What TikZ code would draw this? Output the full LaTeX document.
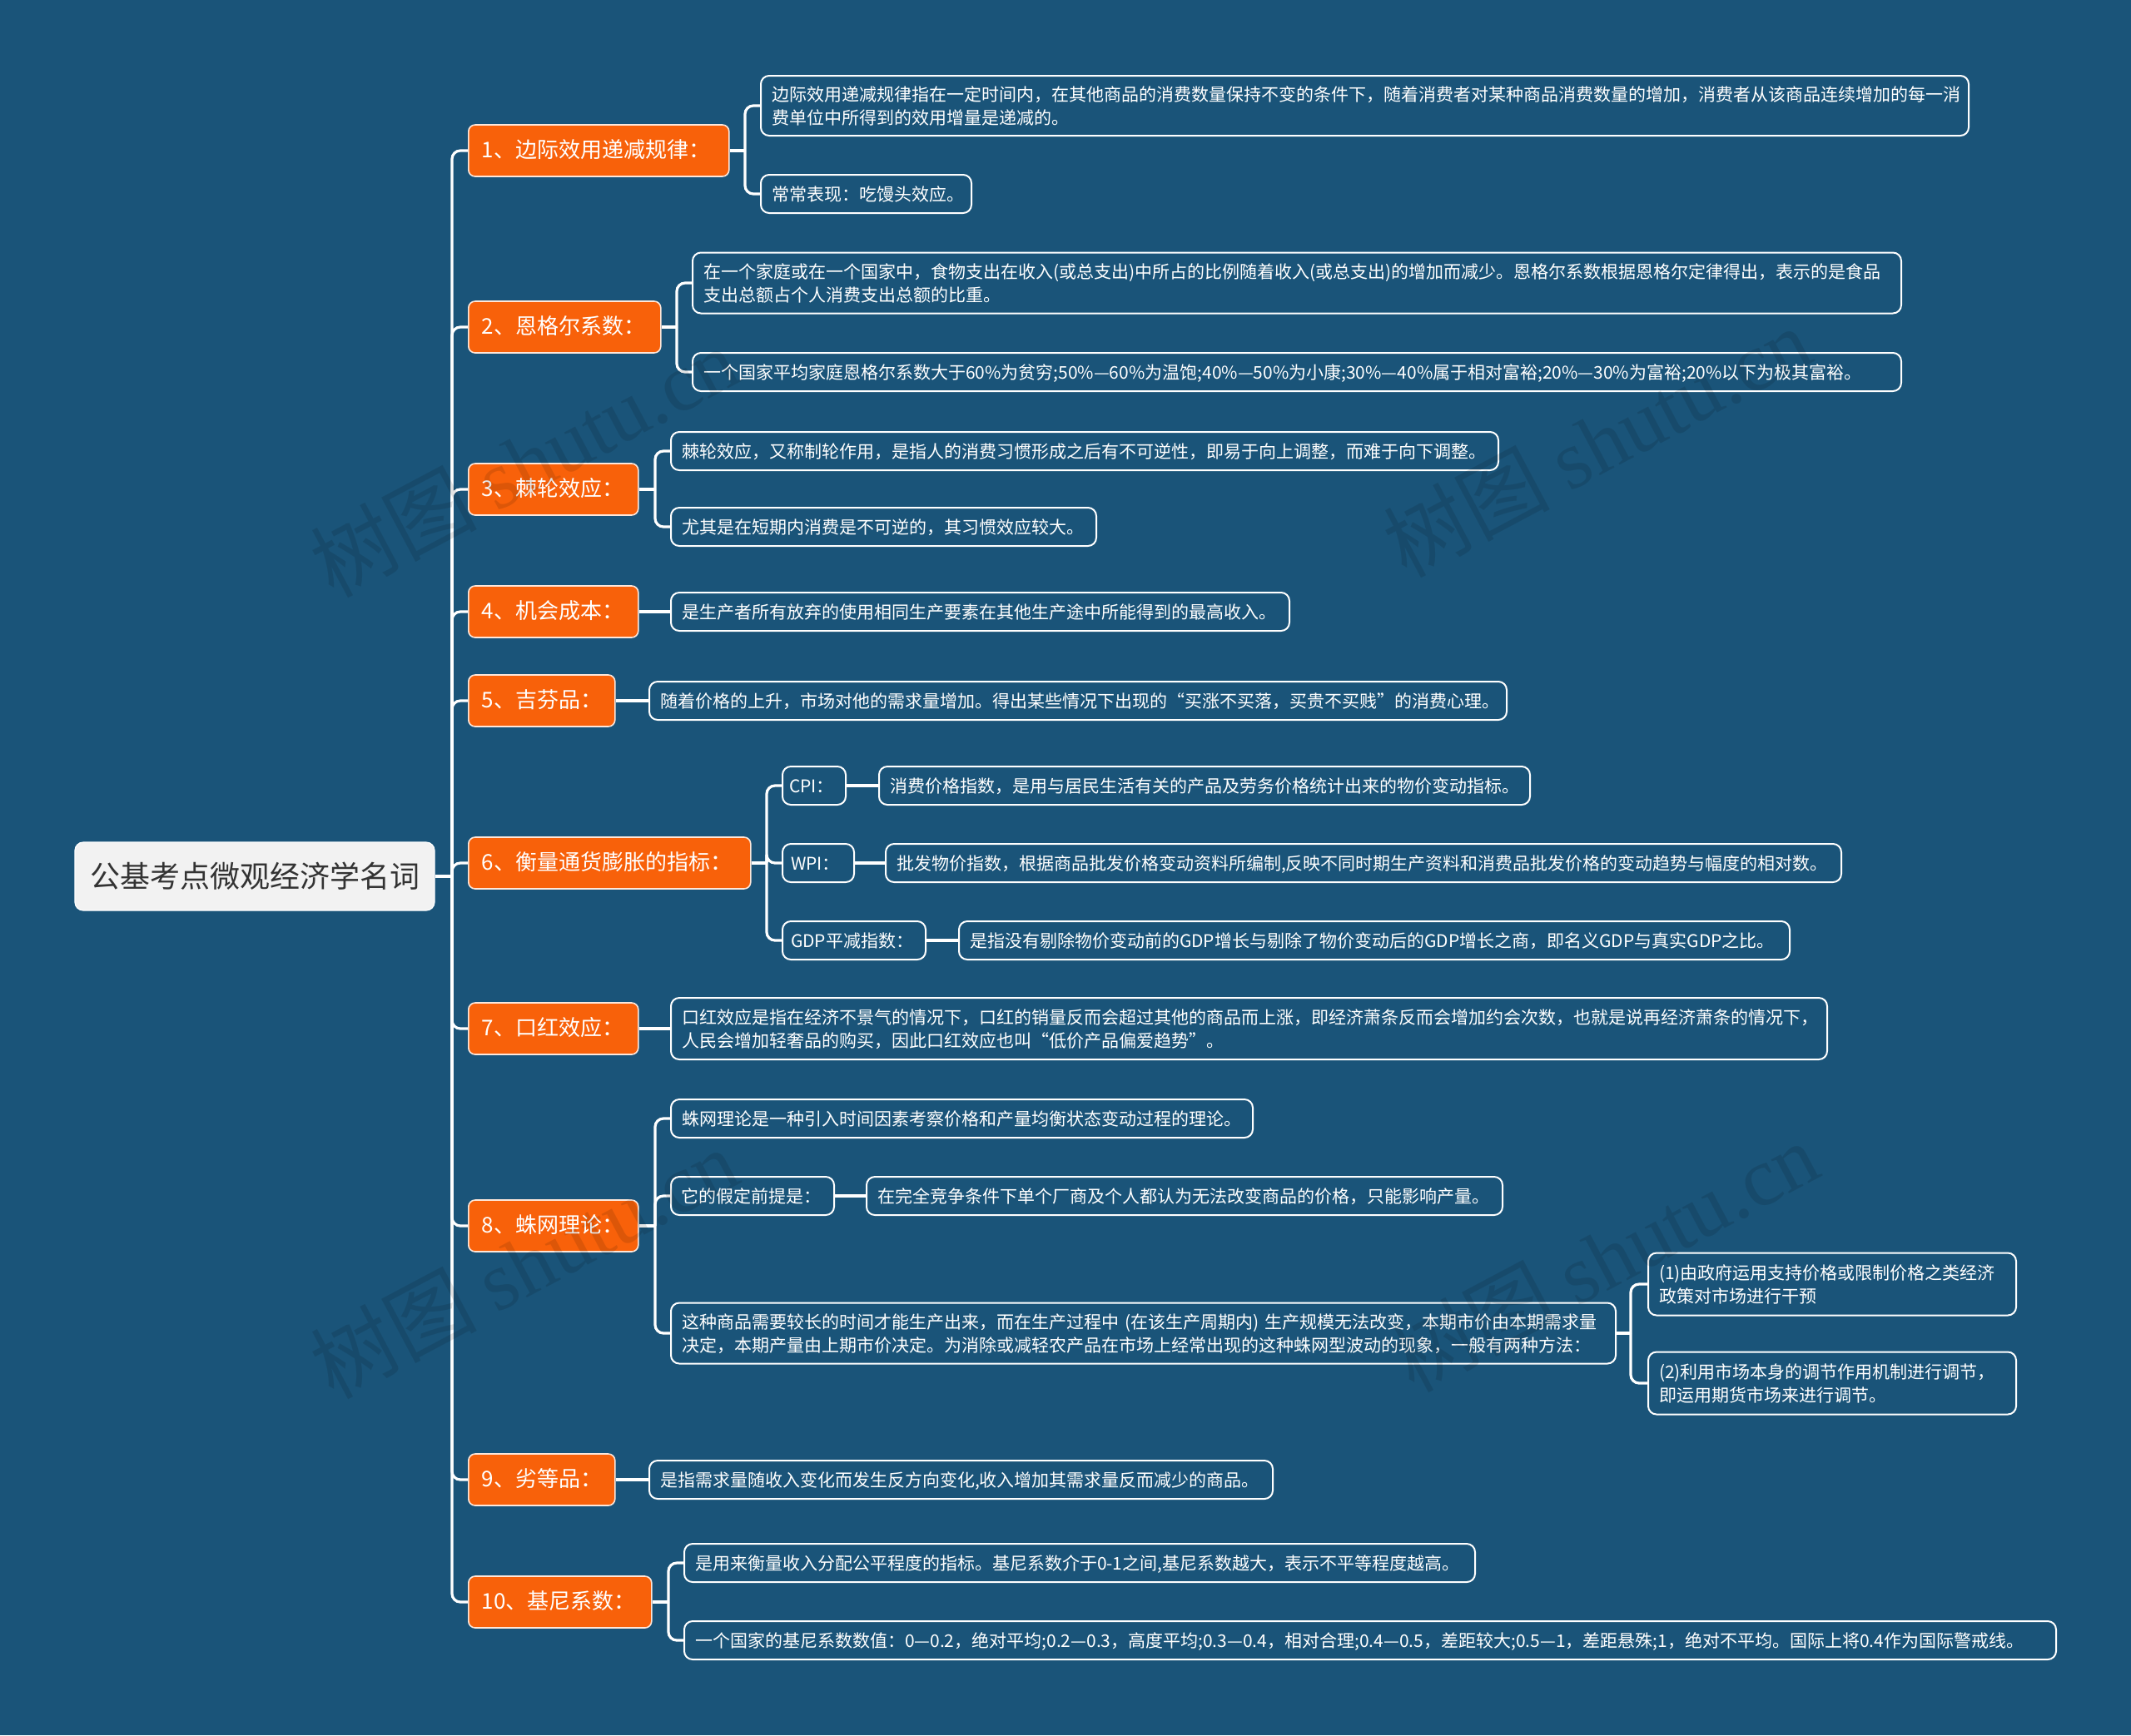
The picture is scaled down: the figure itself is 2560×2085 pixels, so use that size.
\documentclass[tikz,border=0pt]{standalone}
\usepackage{fontspec}
\setmainfont{Noto Sans CJK SC}
\newfontfamily\wmlatin{Liberation Serif}
\definecolor{bgblue}{HTML}{1A5479}
\definecolor{orangeA}{HTML}{F8610A}
\definecolor{rootfill}{HTML}{F2F2F2}
\definecolor{roottext}{HTML}{333333}
\newcommand\mmnode[8]{%
  \pgfmathsetmacro\mmW{#5/2-2*#7}%
  \pgfmathsetmacro\mmH{#6/2}%
  \node[#1, inner xsep=#7pt, text width=\mmW pt, minimum height=\mmH pt, anchor=west] (#2) at (#3,#4) {\raisebox{-1.2pt}[\height][\depth]{\begin{tabular}{@{}l@{}}#8\end{tabular}}};%
}
\tikzset{
  rootbox/.style={fill=rootfill, draw=white, line width=0.6pt, rounded corners=5pt, text=roottext,
    font=\fontsize{18}{22}\selectfont, minimum width=216pt, minimum height=41pt, inner sep=0pt},
  lvone/.style={fill=orangeA, draw=white!85!orangeA, line width=0.8pt, rounded corners=4pt, text=white,
    font=\fontsize{13}{16}\selectfont, align=left, inner ysep=0pt},
  lvtwo/.style={fill=bgblue, draw=white, line width=1pt, rounded corners=5pt, text=white,
    font=\fontsize{10.5}{14}\selectfont, align=left, inner ysep=0pt},
  conn/.style={draw=white, line width=1.6pt, rounded corners=5pt},
  wmark/.style={text=black, opacity=0.11, rotate=28, font=\fontsize{50}{50}\selectfont}
}
\begin{document}
\begin{tikzpicture}[x=0.5pt,y=-0.5pt]
\useasboundingbox (0,0) rectangle (2560,2085);
\fill[bgblue] (0,0) rectangle (2560,2085);

% root
\node[rootbox] (root) at (306,1053) {公基考点微观经济学名词};

% level one
\mmnode{lvone}{n1}{562}{181}{313}{62}{8}{1、边际效用递减规律：}
\mmnode{lvone}{n2}{562}{393}{231}{62}{8}{2、恩格尔系数：}
\mmnode{lvone}{n3}{562}{588}{204}{62}{8}{3、棘轮效应：}
\mmnode{lvone}{n4}{562}{735}{204}{62}{8}{4、机会成本：}
\mmnode{lvone}{n5}{562}{842}{176}{62}{8}{5、吉芬品：}
\mmnode{lvone}{n6}{562}{1037}{339}{62}{8}{6、衡量通货膨胀的指标：}
\mmnode{lvone}{n7}{562}{1236}{204}{62}{8}{7、口红效应：}
\mmnode{lvone}{n8}{562}{1473}{204}{62}{8}{8、蛛网理论：}
\mmnode{lvone}{n9}{562}{1778}{176}{62}{8}{9、劣等品：}
\mmnode{lvone}{n10}{562}{1925}{220}{62}{8}{10、基尼系数：}

% level two
\mmnode{lvtwo}{a1}{913}{127}{1451}{72}{6.5}{边际效用递减规律指在一定时间内，在其他商品的消费数量保持不变的条件下，随着消费者对某种商品消费数量的增加，消费者从该商品连续增加的每一消\\费单位中所得到的效用增量是递减的。}
\mmnode{lvtwo}{b1}{913}{233}{253}{46}{6.5}{常常表现：吃馒头效应。}
\mmnode{lvtwo}{a2}{831}{340}{1452}{73}{6.5}{在一个家庭或在一个国家中，食物支出在收入(或总支出)中所占的比例随着收入(或总支出)的增加而减少。恩格尔系数根据恩格尔定律得出，表示的是食品\\支出总额占个人消费支出总额的比重。}
\mmnode{lvtwo}{b2}{831}{447}{1452}{46}{6.5}{一个国家平均家庭恩格尔系数大于60\%为贫穷;50\%—60\%为温饱;40\%—50\%为小康;30\%—40\%属于相对富裕;20\%—30\%为富裕;20\%以下为极其富裕。}
\mmnode{lvtwo}{a3}{805}{542}{994}{46}{6.5}{棘轮效应，又称制轮作用，是指人的消费习惯形成之后有不可逆性，即易于向上调整，而难于向下调整。}
\mmnode{lvtwo}{b3}{805}{633}{511}{46}{6.5}{尤其是在短期内消费是不可逆的，其习惯效应较大。}
\mmnode{lvtwo}{a4}{805}{735}{743}{46}{6.5}{是生产者所有放弃的使用相同生产要素在其他生产途中所能得到的最高收入。}
\mmnode{lvtwo}{a5}{779}{842}{1030}{46}{6.5}{随着价格的上升，市场对他的需求量增加。得出某些情况下出现的“买涨不买落，买贵不买贱”的消费心理。}
\mmnode{lvtwo}{c6}{939}{944}{76}{46}{4}{CPI：}
\mmnode{lvtwo}{w6}{939}{1037}{86}{46}{5}{WPI：}
\mmnode{lvtwo}{g6}{939}{1130}{172}{46}{5}{GDP平减指数：}
\mmnode{lvtwo}{cd6}{1055}{944}{782}{46}{6.5}{消费价格指数，是用与居民生活有关的产品及劳务价格统计出来的物价变动指标。}
\mmnode{lvtwo}{wd6}{1063}{1037}{1148}{46}{6.5}{批发物价指数，根据商品批发价格变动资料所编制,反映不同时期生产资料和消费品批发价格的变动趋势与幅度的相对数。}
\mmnode{lvtwo}{gd6}{1151}{1130}{998}{46}{6.5}{是指没有剔除物价变动前的GDP增长与剔除了物价变动后的GDP增长之商，即名义GDP与真实GDP之比。}
\mmnode{lvtwo}{a7}{805}{1236}{1389}{74}{6.5}{口红效应是指在经济不景气的情况下，口红的销量反而会超过其他的商品而上涨，即经济萧条反而会增加约会次数，也就是说再经济萧条的情况下，\\人民会增加轻奢品的购买，因此口红效应也叫“低价产品偏爱趋势”。}
\mmnode{lvtwo}{a8}{805}{1344}{699}{46}{6.5}{蛛网理论是一种引入时间因素考察价格和产量均衡状态变动过程的理论。}
\mmnode{lvtwo}{b8}{805}{1437}{196}{46}{6}{它的假定前提是：}
\mmnode{lvtwo}{bd8}{1040}{1437}{764}{46}{6.5}{在完全竞争条件下单个厂商及个人都认为无法改变商品的价格，只能影响产量。}
\mmnode{lvtwo}{c8}{805}{1602}{1135}{73}{6.5}{这种商品需要较长的时间才能生产出来，而在生产过程中 (在该生产周期内) 生产规模无法改变，本期市价由本期需求量\\决定，本期产量由上期市价决定。为消除或减轻农产品在市场上经常出现的这种蛛网型波动的现象，一般有两种方法：}
\mmnode{lvtwo}{c8a}{1979}{1543}{442}{75}{6.5}{(1)由政府运用支持价格或限制价格之类经济\\政策对市场进行干预}
\mmnode{lvtwo}{c8b}{1979}{1662}{442}{75}{6.5}{(2)利用市场本身的调节作用机制进行调节，\\即运用期货市场来进行调节。}
\mmnode{lvtwo}{a9}{779}{1778}{749}{46}{6.5}{是指需求量随收入变化而发生反方向变化,收入增加其需求量反而减少的商品。}
\mmnode{lvtwo}{a10}{821}{1878}{950}{46}{6.5}{是用来衡量收入分配公平程度的指标。基尼系数介于0-1之间,基尼系数越大，表示不平等程度越高。}
\mmnode{lvtwo}{b10}{821}{1971}{1648}{46}{6.5}{一个国家的基尼系数数值：0—0.2，绝对平均;0.2—0.3，高度平均;0.3—0.4，相对合理;0.4—0.5，差距较大;0.5—1，差距悬殊;1，绝对不平均。国际上将0.4作为国际警戒线。}

% junctions
\coordinate (j0) at (543,1053);
\coordinate (j1) at (895,181);
\coordinate (j2) at (813,393);
\coordinate (j3) at (787,588);
\coordinate (j6) at (921,1037);
\coordinate (j8) at (787,1473);
\coordinate (j8c) at (1959,1602);
\coordinate (j10) at (803,1925);

% connectors
\draw[conn] (root.east) -- (j0);
\foreach \k in {n1,n2,n3,n4,n5,n6,n7,n8,n9,n10} {\draw[conn] (j0) |- (\k.west);}
\draw[conn] (n1.east) -- (j1);
\draw[conn] (j1) |- (a1.west);
\draw[conn] (j1) |- (b1.west);
\draw[conn] (n2.east) -- (j2);
\draw[conn] (j2) |- (a2.west);
\draw[conn] (j2) |- (b2.west);
\draw[conn] (n3.east) -- (j3);
\draw[conn] (j3) |- (a3.west);
\draw[conn] (j3) |- (b3.west);
\draw[conn] (n4.east) -- (a4.west);
\draw[conn] (n5.east) -- (a5.west);
\draw[conn] (n6.east) -- (j6);
\draw[conn] (j6) |- (c6.west);
\draw[conn] (j6) |- (w6.west);
\draw[conn] (j6) |- (g6.west);
\draw[conn] (c6.east) -- (cd6.west);
\draw[conn] (w6.east) -- (wd6.west);
\draw[conn] (g6.east) -- (gd6.west);
\draw[conn] (n7.east) -- (a7.west);
\draw[conn] (n8.east) -- (j8);
\draw[conn] (j8) |- (a8.west);
\draw[conn] (j8) |- (b8.west);
\draw[conn] (j8) |- (c8.west);
\draw[conn] (b8.east) -- (bd8.west);
\draw[conn] (c8.east) -- (j8c);
\draw[conn] (j8c) |- (c8a.west);
\draw[conn] (j8c) |- (c8b.west);
\draw[conn] (n9.east) -- (a9.west);
\draw[conn] (n10.east) -- (j10);
\draw[conn] (j10) |- (a10.west);
\draw[conn] (j10) |- (b10.west);

% watermarks
\node[wmark] (wm1) at (629,555) {树图 {\wmlatin shutu.cn}};
\node[wmark] (wm2) at (1918,531) {树图 {\wmlatin shutu.cn}};
\node[wmark] (wm3) at (629,1518) {树图 {\wmlatin shutu.cn}};
\node[wmark] (wm4) at (1927,1510) {树图 {\wmlatin shutu.cn}};
\end{tikzpicture}
\end{document}
